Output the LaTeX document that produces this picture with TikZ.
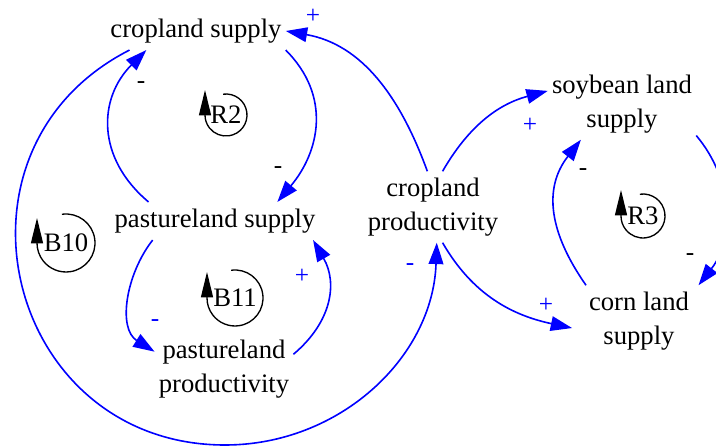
\documentclass[tikz,border=0pt]{standalone}
\usepackage{fontspec}
\setmainfont{Liberation Serif}
\usepackage{tikz}
\usepackage{xcolor}
\usetikzlibrary{arrows.meta}
\definecolor{linkblue}{RGB}{0,0,255}

\begin{document}
\begin{tikzpicture}[x=0.75pt,y=0.75pt,
	var/.style={align=center,inner xsep=3pt,inner ysep=5pt,font=\fontsize{20}{25}\selectfont},
	link/.style={linkblue,line width=1.2pt,-{Triangle[length=16pt,width=11pt]}},
	pol/.style={font=\fontsize{19}{21}\selectfont,inner sep=0pt},
	loopname/.style={font=\fontsize{20}{24}\selectfont,inner sep=0pt},
	loopline/.style={line width=1pt,-{Triangle[length=19pt,width=9pt]}}]
		\useasboundingbox (0,0) rectangle (716,446);
		\clip (0,0) rectangle (716,446);
		% variables
		\node[var] (cs) at (196,415) {cropland supply};
		\node[var] (ps) at (215,225) {pastureland supply};
		\node[var] (pp) at (224,77) {pastureland\\ productivity};
		\node[var] (cp) at (433,239) {cropland\\ productivity};
		\node[var] (sb) at (622,342) {soybean land\\ supply};
		\node[var,minimum width=100pt] (cl) at (639,125) {corn land\\ supply};
		\coordinate (bot) at (225,1);
		% links
		\draw[link] (cs.-12.5) to[out=-45,in=50,looseness=1.1] (ps.17);
		\draw[link] (ps.164) to[out=140,in=-135,looseness=1.15] (cs.201);
		\draw[link] (cp.99) to[out=110,in=-10] (cs.east);
		\draw[link] (cs.196) to[out=207,in=180,looseness=1.38] (bot) to[out=0,in=-92] (cp.-84);
		\draw[link] (cp.75) to[out=60,in=195] (sb.170);
		\draw[link] (cp.-75) to[out=-60,in=168] (cl.186);
		\draw[link] (ps.197) to[out=-128,in=148] (pp.166);
		\draw[link] (pp.12) to[out=40,in=-60,looseness=1.1] (ps.-11.5);
		\draw[link] (sb.-23) to[out=-50,in=52] (cl.31);
		\draw[link] (cl.146) to[out=125,in=-128,looseness=1.1] (sb.221);
		% polarities
		\node[pol] (p1) at (278,276) {-};
		\node[pol] (p2) at (141,361) {-};
		\node[pol,text=linkblue] (p3) at (313,430) {+};
		\node[pol,text=linkblue] (p4) at (410,179) {-};
		\node[pol,text=linkblue] (p5) at (530,321) {+};
		\node[pol,text=linkblue] (p6) at (546,141) {+};
		\node[pol,text=linkblue] (p7) at (155,123) {-};
		\node[pol,text=linkblue] (p8) at (302,170) {+};
		\node[pol] (p9) at (690,189) {-};
		\node[pol] (p10) at (583,274) {-};
		% loop signs
		\node[loopname] (R2) at (226,331) {R2};
		\draw[loopline] ([shift={(98:21)}]R2.center) arc[start angle=98,end angle=-180,radius=21] -- ++(0,25);
		\node[loopname] (B10) at (66,203) {B10};
		\draw[loopline] ([shift={(98:29)}]B10.center) arc[start angle=98,end angle=-180,radius=29] -- ++(0,25);
		\node[loopname] (B11) at (235,148) {B11};
		\draw[loopline] ([shift={(98:28)}]B11.center) arc[start angle=98,end angle=-180,radius=28] -- ++(0,26);
		\node[loopname] (R3) at (643,230) {R3};
		\draw[loopline] ([shift={(98:22)}]R3.center) arc[start angle=98,end angle=-180,radius=22] -- ++(0,26);
\end{tikzpicture}
\end{document}
